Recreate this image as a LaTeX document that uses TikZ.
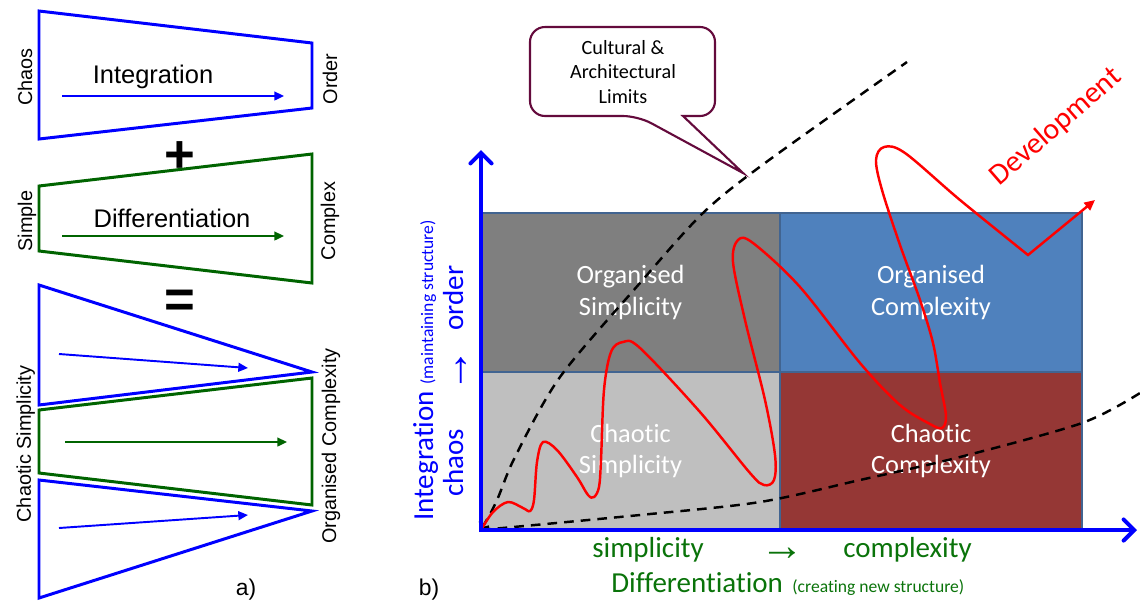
\documentclass[tikz,border=0pt]{standalone}
\usepackage{fontspec}
\setmainfont{Liberation Sans}
\newfontfamily\carl[Ligatures=NoCommon]{Carlito}
\newfontfamily\arrfont{Liberation Sans}
\usetikzlibrary{arrows.meta}
\definecolor{pblue}{RGB}{0,0,255}
\definecolor{pgreen}{RGB}{0,100,0}
\definecolor{tgreen}{RGB}{10,115,10}
\definecolor{boxline}{RGB}{65,100,145}
\definecolor{cOS}{RGB}{127,127,127}
\definecolor{cOC}{RGB}{79,129,189}
\definecolor{cCS}{RGB}{191,191,191}
\definecolor{cCC}{RGB}{149,55,53}
\definecolor{callcol}{RGB}{100,10,60}
\begin{document}
\begin{tikzpicture}[x=0.02cm,y=-0.02cm,
  trap/.style={line width=1.7pt, line join=miter},
  larrow/.style={line width=1.1pt, -{Triangle[length=5.5pt,width=5pt]}},
  ltext/.style={inner sep=0, anchor=base, font=\fontsize{14.5}{17}\selectfont},
  rlab/.style={rotate=90, anchor=base, inner sep=0, font=\fontsize{11.3}{13}\selectfont},
  quad/.style={draw=boxline, line width=0.9pt, text=white, align=center, inner sep=0,
     font=\carl\fontsize{15}{18}\selectfont},
  axis/.style={pblue, line width=2.3pt, -{Straight Barb[length=6pt,width=12pt,line cap=round]}},
  limit/.style={black, line width=1.4pt, dash pattern=on 5.5pt off 4pt},
  biglab/.style={inner sep=0, font=\carl\fontsize{16.5}{20}\selectfont},
  arrowlab/.style={inner sep=0, font=\arrfont\fontsize{25}{28}\selectfont},
  smalllab/.style={inner sep=0, font=\carl\fontsize{10}{12}\selectfont}
]
\useasboundingbox (0,0) rectangle (1140,600);

% ---------------- panel a) ----------------
% Integration trapezoid
\draw[pblue, trap] (39,11) -- (312,43) -- (312,108) -- (39,139) -- cycle;
\coordinate (i1) at (62,96); \coordinate (i2) at (284,96);
\draw[pblue, larrow] (i1) -- (i2);
\node[ltext] (tInt) at (153,83) {Integration};
\node[rlab] (tChaos) at (32,77) {Chaos};
\node[rlab] (tOrder) at (337,79) {Order};

\node[inner sep=0, font=\bfseries\fontsize{30}{30}\selectfont] (plus) at (180,157) {+};

% Differentiation trapezoid
\draw[pgreen, trap] (39,186) -- (312,154) -- (312,283) -- (39,251) -- cycle;
\coordinate (d1) at (62,236); \coordinate (d2) at (284,236);
\draw[pgreen, larrow] (d1) -- (d2);
\node[ltext] (tDiff) at (172,227) {Differentiation};
\node[rlab] (tSimple) at (32,221) {Simple};
\node[rlab] (tComplex) at (335,221) {Complex};

\node[inner sep=0, font=\bfseries\fontsize{30}{30}\selectfont] (eq) at (180,304) {=};

% combined
\draw[pblue, trap] (39,285) -- (312,372) -- (39,405) -- cycle;
\coordinate (c1) at (59,354); \coordinate (c2) at (248,368);
\draw[pblue, larrow] (c1) -- (c2);
\draw[pgreen, trap] (39,410) -- (312,378) -- (312,505) -- (39,473) -- cycle;
\coordinate (c3) at (65,442); \coordinate (c4) at (287,442);
\draw[pgreen, larrow] (c3) -- (c4);
\draw[pblue, trap] (39,480) -- (312,511) -- (39,598) -- cycle;
\coordinate (c5) at (59,528); \coordinate (c6) at (248,515);
\draw[pblue, larrow] (c5) -- (c6);
\node[rlab] (tCS) at (31,444) {Chaotic Simplicity};
\node[rlab] (tOC) at (336,446) {Organised Complexity};
\node[inner sep=0, anchor=base, font=\fontsize{13}{15}\selectfont] (la) at (246,595) {a)};

% ---------------- panel b) ----------------
\node[quad, fill=cOS, minimum width=5.98cm, minimum height=3.18cm] (OS) at (630.5,292.5) {Organised\\Simplicity};
\node[quad, fill=cOC, minimum width=6.04cm, minimum height=3.18cm] (OC) at (931,292.5) {Organised\\Complexity};
\node[quad, fill=cCS, minimum width=5.98cm, minimum height=3.16cm] (CS) at (630.5,451) {Chaotic\\Simplicity};
\node[quad, fill=cCC, minimum width=6.04cm, minimum height=3.16cm] (CC) at (931,451) {Chaotic\\Complexity};

% limits (dashed)
\draw[limit, {Straight Barb[length=3pt,width=6pt]}-] plot[smooth] coordinates {(481,530) (497,500) (515,457) (560,377) (640,283) (703,213) (765,163) (907,62)};
\draw[limit] plot[smooth] coordinates {(481,530) (640,515) (760,502) (860,480) (960,457) (1082,423) (1140,393)};

% development curve
\draw[red, line width=1.4pt, line join=miter, -{Triangle[length=6pt,width=5.5pt]}]
  plot[smooth, tension=0.55] coordinates {(481,530) (493,512) (508,502) (523,508) (530,511) (534,500) (537,462) (543,442) (557,450) (577,477) (588,495) (594,497) (599,487) (601,460) (604,390) (611,352) (623,342) (640,348) (700,412) (750,473) (764,485) (774,480) (775,455) (765,400) (745,320) (733,262) (738,240) (753,243) (800,287) (860,363) (900,405) (930,424) (942,428) (946,416) (940,383) (933,343) (920,300) (900,245) (882,190) (876,160) (884,147) (905,153) (960,200) (1028,255)}
  -- (1095,200);
\node[inner sep=0, anchor=base, rotate=41, text=red, font=\carl\fontsize{17}{20}\selectfont] (dev) at (1061,133) {Development};

% axes
\coordinate (O) at (481,530);
\coordinate (ytip) at (481,150);
\coordinate (xtip) at (1137,530);
\coordinate (O1) at (481,532);
\coordinate (O2) at (479,530);
\draw[axis] (O1) -- (ytip);
\draw[axis] (O2) -- (xtip);

% axis labels
\node[biglab, text=pblue, rotate=90, anchor=base west] (yl1) at (433,521) {Integration~{\fontsize{10}{12}\selectfont(maintaining structure)}};
\node[biglab, text=pblue, rotate=90, anchor=base west] (yl2) at (463,497) {chaos};
\node[arrowlab, text=pblue, rotate=90, anchor=base] (yl3) at (468,371) {→};
\node[biglab, text=pblue, rotate=90, anchor=base west] (yl4) at (463,331) {order};

\node[biglab, text=tgreen, anchor=base west] (xl1) at (592,557) {simplicity};
\node[arrowlab, text=tgreen, anchor=base] (xl2) at (782,560) {→};
\node[biglab, text=tgreen, anchor=base west] (xl3) at (843,557) {complexity};
\node[biglab, text=tgreen, anchor=base west] (xl4) at (611,592) {Differentiation};
\node[smalllab, text=tgreen, anchor=base west] (xl5) at (792,592) {(creating new structure)};

\node[inner sep=0, anchor=base, font=\fontsize{13}{15}\selectfont] (lb) at (429,595) {b)};

% callout
\coordinate (tip) at (743,173);
\draw[callcol, line width=1.2pt, fill=white]
  (683,116) [rounded corners=0.3cm] -- (715,116) -- (715,27) -- (530,27) -- (530,116) -- (638,116) [sharp corners] -- (tip) -- cycle;
\node[inner sep=0, align=center, font=\carl\fontsize{11.5}{14}\selectfont] (callout) at (623,72) {Cultural \&\\Architectural\\Limits};
\end{tikzpicture}
\end{document}
